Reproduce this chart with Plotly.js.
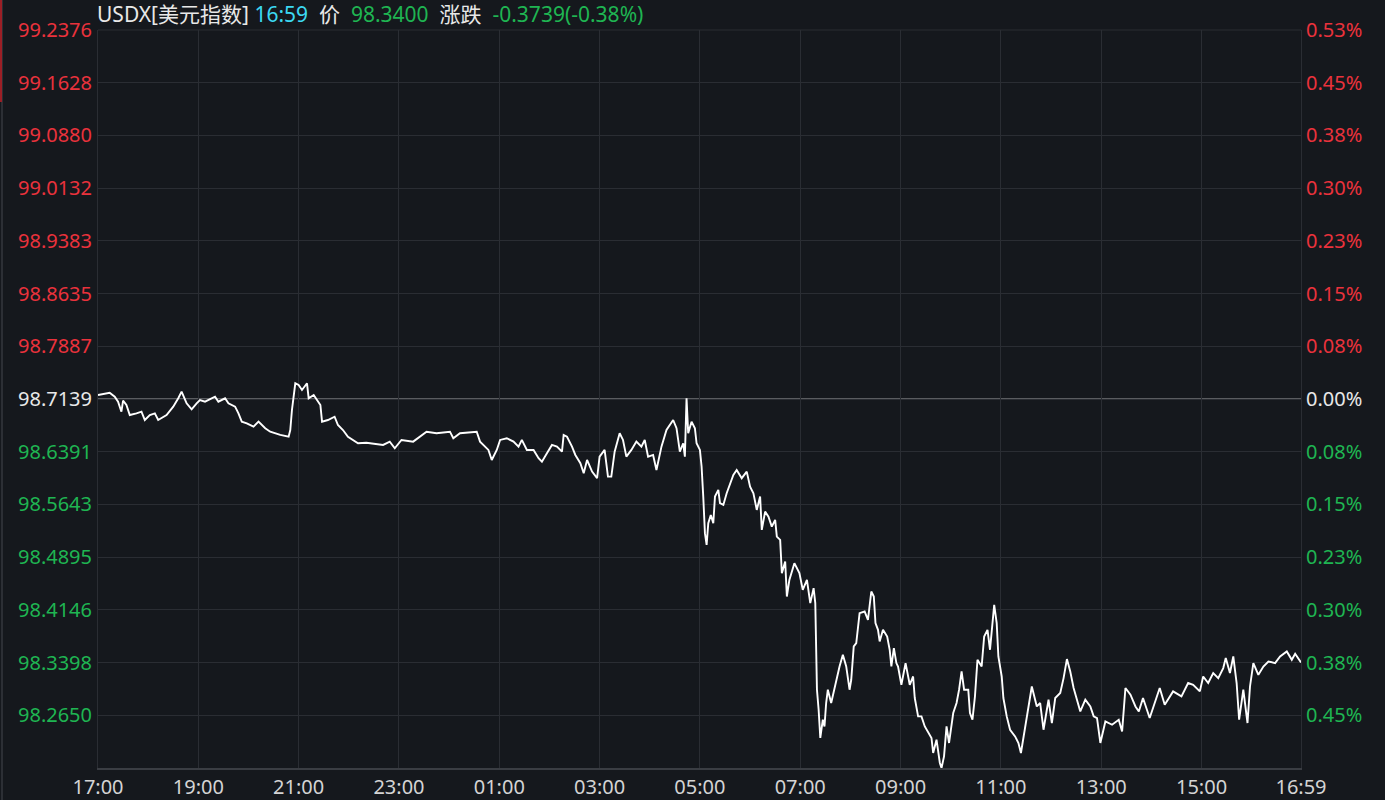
<!DOCTYPE html>
<html>
<head>
<meta charset="utf-8">
<script src="https://cdn.plot.ly/plotly-3.0.1.min.js"></script>
<style>
  html, body { margin:0; padding:0; background:#15181d; }
  #chart { width:1385px; height:800px; }
  #edge { position:absolute; left:1px; top:0; width:2px; height:800px; background:#2c2f35; }
  #edgeRed { position:absolute; left:0; top:0; width:2px; height:102px; background:#9b1f26; }
</style>
</head>
<body>
<div id="chart"></div>
<div id="edge"></div>
<div id="edgeRed"></div>
<script>
// ---- data ----
const symbol = 'USDX[美元指数]';
const lastTime = '16:59';
const lastPrice = '98.3400';
const change = '-0.3739(-0.38%)';
const prevClose = 98.7139;

// minutes since 17:00 session open
const minutes = [0,14,20,24,28,30,34,38,46,52,56,62,68,72,82,90,96,100,106,112,118,122,128,140,144,152,156,164,168,172,178,186,192,200,206,218,228,230,232,236,240,244,250,252,258,266,268,275,283,287,293,299,311,321,341,349,355,363,
377,393,405,421,425,433,453,457,467,471,477,481,489,497,503,507,513,521,527,531,537,543,549,555,557,561,567,571,577,581,585,591,597,600,606,610,614,618,624,628,632,638,644,650,654,658,664,668,674,680,688,692,696,700,702,704,706,710,714,716,720,722,724,726,728,730,733,736,738,742,744,748,752,756,760,764,770,776,780,784,788,792,794,798,802,806,810,812,816,818,822,824,827,833,839,843,848,852,856,858,
860,862,864,867,869,871,873,877,881,883,887,891,895,899,901,904,907,911,917,921,925,928,930,933,935,939,944,947,949,952,955,957,961,966,971,975,977,981,985,989,993,997,999,1003,1007,1009,1012,1015,1018,1021,1023,1027,1030,1033,1036,1041,1043,1046,1049,1052,1057,1060,1064,1067,1071,1072,1075,1077,1081,1083,1087,1091,1097,1101,1104,1108,1113,1117,1123,1127,1131,1137,1141,1145,1151,1155,1159,1163,1167,1175,1181,1187,1191,1195,1199,1205,1213,1221,1225,1229,1235,1241,1245,1250,1258,1264,1270,1276,1286,1296,1304,1310,1318,1322,1328,1334,1340,1346,1349,1354,1358,1362,1365,1370,1375,1378,1382,1388,1394,1400,1408,1414,1422,1428,1432,1439];

const prices = [98.7196,98.7228,98.7172,98.7101,98.6959,98.7115,98.7054,98.6912,98.6936,98.6959,98.6841,98.6912,98.6936,98.6841,98.6912,98.7030,98.7149,98.7243,98.7078,98.6993,98.7078,98.7125,98.7101,98.7172,98.7101,98.7149,98.7078,98.7030,98.6936,98.6817,98.6794,98.6746,98.6817,98.6724,98.6675,98.6629,98.6604,98.6699,98.6983,98.7362,98.7338,98.7267,98.7362,98.7149,98.7196,98.7054,98.6817,98.6841,98.6888,98.6770,98.6699,98.6604,98.6511,98.6519,98.6487,98.6534,98.6440,98.6558,
98.6534,98.6675,98.6653,98.6675,98.6582,98.6653,98.6675,98.6534,98.6416,98.6274,98.6416,98.6558,98.6582,98.6534,98.6463,98.6558,98.6416,98.6416,98.6298,98.6250,98.6369,98.6487,98.6463,98.6392,98.6629,98.6604,98.6463,98.6345,98.6227,98.6085,98.6274,98.6108,98.6015,98.6321,98.6416,98.6037,98.6037,98.6392,98.6653,98.6558,98.6321,98.6416,98.6534,98.6463,98.6558,98.6321,98.6345,98.6132,98.6463,98.6699,98.6841,98.6724,98.6392,98.6511,98.6321,98.7149,98.6653,98.6817,98.6724,98.6511,98.6416,98.6179,98.5754,98.5235,98.5069,98.5376,98.5494,98.5376,98.5754,98.5849,98.5660,98.5636,98.5802,98.5920,98.6061,98.6132,98.6015,98.6108,98.5895,98.5802,98.5565,98.5754,98.5282,98.5541,98.5470,98.5328,98.5423,98.5186,98.5140,98.4667,98.4832,98.4336,98.4572,98.4809,98.4667,98.4431,98.4572,98.4242,98.4455,98.4242,
98.3013,98.2729,98.2328,98.2587,98.2492,98.2824,98.3013,98.2824,98.3037,98.3154,98.3343,98.3509,98.3343,98.3013,98.3154,98.3627,98.3675,98.4100,98.4123,98.4005,98.4407,98.4336,98.3958,98.3863,98.3698,98.3863,98.3768,98.3580,98.3343,98.3604,98.3391,98.3343,98.3083,98.3391,98.3083,98.3201,98.2895,98.2634,98.2634,98.2492,98.2399,98.2328,98.2115,98.2304,98.1973,98.1902,98.2067,98.2492,98.2257,98.2492,98.2682,98.2824,98.3013,98.3272,98.3013,98.3013,98.2682,98.2587,98.2918,98.3438,98.3343,98.3768,98.3863,98.3580,98.4052,98.4218,98.3958,98.3485,98.3201,98.2895,98.2634,98.2445,98.2350,98.2257,98.2115,98.2399,98.2776,98.3059,98.2776,98.2824,98.2445,98.2871,98.2540,98.2895,98.2966,98.3178,98.3448,98.3272,98.3037,98.2705,98.2871,98.2776,98.2634,98.2611,98.2257,98.2563,98.2516,98.2587,98.2421,98.3037,98.2942,98.2776,98.2705,98.2895,98.2611,98.2824,98.3037,98.2800,98.2989,98.2918,98.3108,98.3083,98.2989,98.3201,98.3108,98.3250,98.3178,98.3320,98.3462,98.3250,98.3485,98.3108,98.2587,98.3013,98.2540,98.3059,98.3391,98.3225,98.3343,98.3414,98.3391,98.3485,98.3556,98.3438,98.3523,98.3400];

const priceTicks = [99.2376,99.1628,99.0880,99.0132,98.9383,98.8635,98.7887,98.7139,98.6391,98.5643,98.4895,98.4146,98.3398,98.2650];
const pctTicks = ['0.53%','0.45%','0.38%','0.30%','0.23%','0.15%','0.08%','0.00%','0.08%','0.15%','0.23%','0.30%','0.38%','0.45%'];
const timeTickVals = [0,120,240,360,480,600,720,840,960,1080,1200,1320,1439];
const timeTickText = ['17:00','19:00','21:00','23:00','01:00','03:00','05:00','07:00','09:00','11:00','13:00','15:00','16:59'];
const yMin = 98.1902, yMax = 99.2376;

// ---- styling ----
const RED = '#ea323c', GREEN = '#1fb552', WHITE = '#e8e8e8', CYAN = '#3cd8f2';
const GRID = '#2a2d33';
const FONT = '"Noto Sans", "Noto Sans CJK SC", sans-serif';

function colorFor(v){ return Math.abs(v - prevClose) < 1e-6 ? WHITE : (v > prevClose ? RED : GREEN); }
const leftText = priceTicks.map(v => `<span style="color:${colorFor(v)}">${v.toFixed(4)}</span>`);
const rightText = priceTicks.map((v,i) => `<span style="color:${colorFor(v)}">${pctTicks[i]}</span>`);

const traces = [
  { x: minutes, y: prices, type:'scatter', mode:'lines', line:{color:'#ffffff', width:1.9}, hoverinfo:'skip', xaxis:'x', yaxis:'y' },
  { x: minutes, y: prices, type:'scatter', mode:'lines', line:{color:'rgba(0,0,0,0)', width:0}, hoverinfo:'skip', xaxis:'x', yaxis:'y2', showlegend:false }
];

const sp = '&nbsp;&nbsp;';
const layout = {
  width:1385, height:800,
  paper_bgcolor:'#15181d', plot_bgcolor:'#15181d',
  margin:{l:98, r:84, t:30, b:32},
  showlegend:false,
  font:{family:FONT, color:WHITE, size:20},
  xaxis:{
    range:[0,1439], tickmode:'array', tickvals:timeTickVals, ticktext:timeTickText,
    showgrid:true, gridcolor:GRID, gridwidth:1, zeroline:false,
    showline:true, linecolor:'#3a3d43', linewidth:2, mirror:false,
    ticks:'', ticklabelstandoff:0,
    tickfont:{family:FONT, size:20, color:'#d4d4d4'}, fixedrange:true
  },
  yaxis:{
    range:[yMin,yMax], tickmode:'array', tickvals:priceTicks, ticktext:leftText,
    showgrid:true, gridcolor:GRID, gridwidth:1, zeroline:false,
    showline:true, linecolor:GRID, linewidth:1, mirror:false,
    ticks:'', ticklabelstandoff:1, side:'left',
    tickfont:{family:FONT, size:20}, fixedrange:true
  },
  yaxis2:{
    range:[yMin,yMax], overlaying:'y', side:'right', tickmode:'array', tickvals:priceTicks, ticktext:rightText,
    showgrid:false, zeroline:false, showline:true, linecolor:GRID, linewidth:1,
    ticks:'', ticklabelstandoff:0,
    tickfont:{family:FONT, size:20}, fixedrange:true
  },
  shapes:[
    { type:'line', xref:'paper', x0:0, x1:1, yref:'y', y0:prevClose, y1:prevClose, line:{color:'#5a5c60', width:2}, layer:'below' },
    { type:'line', xref:'paper', x0:0, x1:1, yref:'paper', y0:1, y1:1, line:{color:GRID, width:1}, layer:'below' }
  ],
  annotations:[{
    xref:'paper', yref:'paper', x:0, y:1, xanchor:'left', yanchor:'bottom', yshift:0, xshift:-3,
    showarrow:false, align:'left',
    font:{family:FONT, size:21, color:WHITE},
    text: `${symbol} <span style="color:${CYAN}">${lastTime}</span>${sp}价${sp}<span style="color:${GREEN}">${lastPrice}</span>${sp}涨跌${sp}<span style="color:${GREEN}">${change}</span>`
  }]
};

Plotly.newPlot('chart', traces, layout, {displayModeBar:false, staticPlot:true});
</script>
</body>
</html>
